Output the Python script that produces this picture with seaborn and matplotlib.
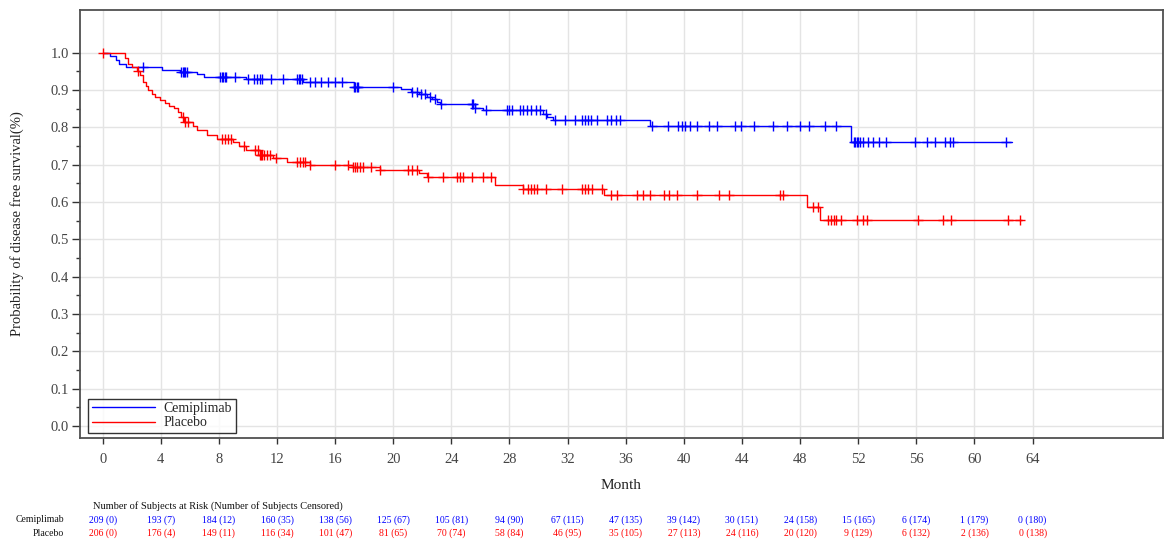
import numpy as np
import pandas as pd
import matplotlib
matplotlib.use("Agg")
import matplotlib.pyplot as plt
import seaborn as sns
from matplotlib.lines import Line2D
from matplotlib.ticker import MultipleLocator, FixedLocator
from matplotlib.transforms import blended_transform_factory

# ---------------- data ----------------
cemi_time = [0, 0.5, 0.9, 1.1, 1.6, 4.1, 5.3, 6.5, 7.0, 9.9, 13.8, 17.3, 20.5, 21.2, 21.8, 22.3,
             22.7, 23.0, 23.2, 25.6, 26.2, 30.3, 30.6, 31.0, 37.7, 51.5, 62.6]
cemi_surv = [1.0, 0.99, 0.98, 0.969, 0.962, 0.955, 0.949, 0.942, 0.936, 0.929, 0.922, 0.909, 0.902,
             0.896, 0.889, 0.882, 0.875, 0.868, 0.862, 0.853, 0.846, 0.837, 0.828, 0.821, 0.804,
             0.761, 0.761]
cemi_cens_times = [2.8, 5.4, 5.5, 5.6, 5.7, 5.8, 8.1, 8.2, 8.3, 8.4, 8.5, 9.1, 10.0, 10.4, 10.6,
                   10.8, 11.0, 11.6, 12.4, 13.4, 13.5, 13.6, 13.7, 14.3, 14.6, 15.0, 15.5, 16.0,
                   16.5, 17.3, 17.4, 17.5, 17.6, 20.0, 21.3, 21.6, 21.9, 22.2, 22.5, 22.9, 23.3,
                   25.4, 25.5, 25.6, 26.4, 27.8, 28.0, 28.2, 28.7, 28.9, 29.2, 29.5, 29.8, 30.1,
                   30.5, 31.1, 31.8, 32.5, 33.0, 33.2, 33.4, 33.6, 34.0, 34.7, 35.0, 35.3, 35.6,
                   37.8, 38.9, 39.6, 39.9, 40.1, 40.4, 40.9, 41.7, 42.3, 43.5, 43.9, 44.8, 46.1,
                   47.1, 48.0, 48.6, 49.7, 50.5, 51.7, 51.8, 51.9, 52.0, 52.1, 52.3, 52.7, 53.0,
                   53.4, 53.9, 55.9, 56.7, 57.3, 58.0, 58.3, 58.5, 62.2]

plac_time = [0, 1.55, 1.75, 2.0, 2.35, 2.6, 2.8, 3.0, 3.15, 3.4, 3.6, 3.95, 4.3, 4.6, 4.9, 5.2,
             5.4, 5.6, 6.2, 6.5, 7.2, 7.85, 9.0, 9.4, 9.9, 10.8, 11.7, 12.7, 14.3, 17.2, 19.1,
             21.8, 22.3, 27.0, 28.9, 34.5, 48.5, 49.4, 63.3]
plac_surv = [1.0, 0.985, 0.97, 0.962, 0.952, 0.94, 0.922, 0.91, 0.9, 0.89, 0.882, 0.873, 0.865,
             0.858, 0.851, 0.84, 0.828, 0.815, 0.805, 0.793, 0.779, 0.77, 0.76, 0.75, 0.739,
             0.726, 0.717, 0.708, 0.699, 0.693, 0.686, 0.677, 0.667, 0.647, 0.635, 0.618, 0.587,
             0.551, 0.551]
plac_cens_times = [0.0, 2.4, 5.5, 5.7, 5.9, 8.2, 8.4, 8.6, 8.8, 9.7, 10.5, 10.7, 10.8, 10.9, 11.0,
                   11.1, 11.3, 11.5, 11.9, 13.4, 13.6, 13.8, 13.9, 14.3, 16.0, 16.9, 17.2, 17.4,
                   17.5, 17.7, 17.9, 18.5, 19.1, 21.0, 21.3, 21.6, 22.4, 23.4, 24.4, 24.6, 24.8,
                   25.4, 26.2, 26.7, 28.9, 29.3, 29.5, 29.7, 29.9, 30.5, 31.6, 33.0, 33.2, 33.4,
                   33.7, 34.4, 35.0, 35.4, 36.8, 37.2, 37.7, 38.6, 39.0, 39.5, 40.9, 42.4, 43.1,
                   46.6, 46.8, 48.9, 49.2, 49.9, 50.1, 50.3, 50.5, 50.8, 51.9, 52.3, 52.6, 56.1,
                   57.8, 58.4, 62.3, 63.1]

risk_times = [0, 4, 8, 12, 16, 20, 24, 28, 32, 36, 40, 44, 48, 52, 56, 60, 64]
cemi_at_risk = [209, 193, 184, 160, 138, 125, 105, 94, 67, 47, 39, 30, 24, 15, 6, 1, 0]
cemi_censored = [0, 7, 12, 35, 56, 67, 81, 90, 115, 135, 142, 151, 158, 165, 174, 179, 180]
plac_at_risk = [206, 176, 149, 116, 101, 81, 70, 58, 46, 35, 27, 24, 20, 9, 6, 2, 0]
plac_censored = [0, 4, 11, 34, 47, 65, 74, 84, 95, 105, 113, 116, 120, 129, 132, 136, 138]

arms = ["Cemiplimab", "Placebo"]
colors = {"Cemiplimab": "#0000FF", "Placebo": "#FF0000"}

# ---------------- style ----------------
sns.set_theme(style="white")
plt.rcParams["font.family"] = ["Liberation Serif", "DejaVu Serif"]

fig = plt.figure(figsize=(11.64, 5.42), dpi=100)
ax = fig.add_axes([0.0687, 0.1919, 0.9304, 0.7897])


def step_lookup(times, surv, pts):
    t = np.asarray(times)
    s = np.asarray(surv)
    idx = np.searchsorted(t, np.asarray(pts), side="right") - 1
    return s[np.clip(idx, 0, len(s) - 1)]


curves = {
    "Cemiplimab": (cemi_time, cemi_surv, cemi_cens_times),
    "Placebo": (plac_time, plac_surv, plac_cens_times),
}

for arm in arms:
    t, s, c = curves[arm]
    df = pd.DataFrame({"Month": t, "Surv": s})
    sns.lineplot(data=df, x="Month", y="Surv", ax=ax, color=colors[arm], drawstyle="steps-post",
                 estimator=None, sort=False, linewidth=1.0, zorder=3)
    cdf = pd.DataFrame({"Month": c, "Surv": step_lookup(t, s, c)})
    sns.scatterplot(data=cdf, x="Month", y="Surv", ax=ax, color=colors[arm], marker="+",
                    s=55, linewidth=1.0, zorder=4)

ax.set_xlim(-1.56, 72.97)
ax.set_ylim(-0.032, 1.1145)
ax.xaxis.set_major_locator(FixedLocator(risk_times))
ax.yaxis.set_major_locator(FixedLocator(np.round(np.arange(0, 1.01, 0.1), 2)))
ax.yaxis.set_minor_locator(FixedLocator(np.round(np.arange(0.05, 1.0, 0.1), 2)))
ax.set_yticklabels([f"{v:.1f}" for v in np.arange(0, 1.01, 0.1)])

ax.grid(True, which="major", color="#e4e4e4", linewidth=1.0, zorder=0)
ax.set_axisbelow(True)
for sp in ax.spines.values():
    sp.set_color("#505050")
    sp.set_linewidth(1.3)

ax.tick_params(axis="x", which="major", direction="out", length=4.5, width=1.0, color="#333333",
               labelsize=10.5, labelcolor="#444444", pad=6, bottom=True)
ax.tick_params(axis="y", which="major", direction="out", length=5.5, width=1.0, color="#333333",
               labelsize=10.5, labelcolor="#444444", pad=2.5, left=True)
ax.tick_params(axis="y", which="minor", direction="out", length=3, width=1.0, color="#333333",
               left=True)

ax.set_xlabel("Month", fontsize=11, color="#222222")
ax.set_ylabel("Probability of disease free survival(%)", fontsize=10.5, color="#222222")
ax.xaxis.set_label_coords(0.5, -0.095)
ax.yaxis.set_label_coords(-0.052, 0.5)

handles = [Line2D([0], [0], color=colors[a], lw=1.0) for a in arms]
leg = ax.legend(handles, arms, loc="lower left", bbox_to_anchor=(0.0075, 0.012), frameon=True,
                fancybox=False, edgecolor="black", fontsize=10, handlelength=4.6,
                borderpad=0.25, labelspacing=0.1, handletextpad=0.6, borderaxespad=0.0)
leg.get_frame().set_linewidth(1.0)
leg.set_zorder(6)

# ---------------- risk table ----------------
tr = blended_transform_factory(ax.transData, fig.transFigure)
fig.text(0.080, 0.0664, "Number of Subjects at Risk (Number of Subjects Censored)",
         fontsize=7.5, ha="left", va="center", color="#111111")
fig.text(0.055, 0.0406, "Cemiplimab", fontsize=7, ha="right", va="center", color="#111111")
fig.text(0.055, 0.0166, "Placebo", fontsize=7, ha="right", va="center", color="#111111")
for i, tm in enumerate(risk_times):
    ax.text(tm, 0.0406, f"{cemi_at_risk[i]} ({cemi_censored[i]})", transform=tr, fontsize=7,
            ha="center", va="center", color=colors["Cemiplimab"], clip_on=False)
    ax.text(tm, 0.0166, f"{plac_at_risk[i]} ({plac_censored[i]})", transform=tr, fontsize=7,
            ha="center", va="center", color=colors["Placebo"], clip_on=False)

fig.savefig("out.png", dpi=100, facecolor="white")
